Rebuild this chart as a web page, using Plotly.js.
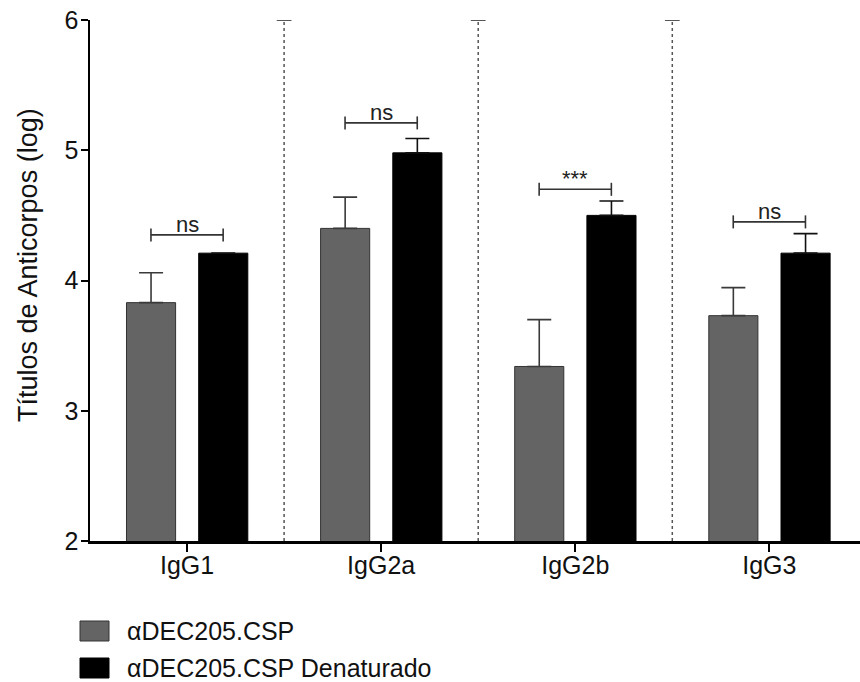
<!DOCTYPE html>
<html>
<head>
<meta charset="utf-8">
<script src="https://cdn.plot.ly/plotly-3.0.1.min.js"></script>
<style>html,body{margin:0;padding:0;background:#fff;}#chart{width:860px;height:682px;}</style>
</head>
<body>
<div id="chart"></div>
<script>
// ---- data ----
const categories = ['IgG1', 'IgG2a', 'IgG2b', 'IgG3'];
const seriesNames = ['\u03b1DEC205.CSP', '\u03b1DEC205.CSP Denaturado'];
const nativeMean = [3.83, 4.40, 3.34, 3.73];
const nativeErr = [0.23, 0.24, 0.36, 0.215];
const denatMean = [4.21, 4.98, 4.50, 4.21];
const denatErr = [0, 0.11, 0.11, 0.15];
const bracketY = [4.35, 5.21, 4.70, 4.45];
const bracketLabels = ['ns', 'ns', '***', 'ns'];
const yTicks = [2, 3, 4, 5, 6];
const yTitle = 'Títulos de Anticorpos (log)';

// ---- layout constants ----
const W = 860, H = 682;
const M = {l: 90, r: 0, t: 20, b: 141};
const FONT = 'Liberation Sans, Arial, sans-serif';
const seriesColors = ['#646464', '#000000'];
const lineColors = ['#333333', '#000000'];
const errColors = ['#3a3a3a', '#111111'];
const barWidth = 0.253;
const barOffsets = [-0.312, 0.06];
const halfSpan = 0.186;

function pxX(px) { return (px - M.l) / (W - M.l - M.r); }
function pxY(py) { return (H - M.b - py) / (H - M.t - M.b); }

const means = [nativeMean, denatMean];
const errs = [nativeErr, denatErr];
const traces = seriesNames.map((name, k) => ({
  type: 'bar',
  name: name,
  x: categories,
  y: means[k],
  width: barWidth,
  offset: barOffsets[k],
  marker: {color: seriesColors[k], line: {color: lineColors[k], width: 1}},
  error_y: {type: 'data', symmetric: false, array: errs[k], arrayminus: categories.map(() => 0),
            color: errColors[k], thickness: 1.6, width: 12},
  showlegend: false,
  hoverinfo: 'x+y'
}));

const shapes = [];
const annotations = [];

// separators between groups
for (let i = 0; i < categories.length - 1; i++) {
  const xs = i + 0.5;
  shapes.push({type: 'line', xref: 'x', yref: 'y', x0: xs, x1: xs, y0: yTicks[0], y1: yTicks[yTicks.length - 1],
               line: {color: '#555', width: 1.5, dash: 'dot'}});
  shapes.push({type: 'line', xref: 'x', yref: 'y', x0: xs - 0.038, x1: xs + 0.038,
               y0: yTicks[yTicks.length - 1], y1: yTicks[yTicks.length - 1],
               line: {color: '#555', width: 2}});
}

// significance brackets
const tick = 0.05;
categories.forEach((c, i) => {
  const y = bracketY[i];
  const a = i - halfSpan, b = i + halfSpan;
  const ln = {color: '#333', width: 1.6};
  shapes.push({type: 'line', xref: 'x', yref: 'y', x0: a, x1: b, y0: y, y1: y, line: ln});
  shapes.push({type: 'line', xref: 'x', yref: 'y', x0: a, x1: a, y0: y - tick, y1: y + tick, line: ln});
  shapes.push({type: 'line', xref: 'x', yref: 'y', x0: b, x1: b, y0: y - tick, y1: y + tick, line: ln});
  annotations.push({xref: 'x', yref: 'y', x: i, y: y, text: bracketLabels[i], showarrow: false,
                    yanchor: 'bottom', yshift: -3, borderpad: 0,
                    font: {family: FONT, size: 22, color: '#222'}});
});

// y axis title
annotations.push({xref: 'paper', yref: 'paper', x: pxX(28), y: pxY(265), text: yTitle, textangle: -90,
                  showarrow: false, xanchor: 'center', yanchor: 'middle',
                  font: {family: FONT, size: 27, color: '#111'}});

// manual legend
const legendRows = [631, 668];
seriesNames.forEach((name, k) => {
  const cy = legendRows[k];
  shapes.push({type: 'rect', xref: 'paper', yref: 'paper', x0: pxX(80), x1: pxX(109), y0: pxY(cy - 10), y1: pxY(cy + 10),
               fillcolor: seriesColors[k], line: {color: lineColors[k], width: 1}});
  annotations.push({xref: 'paper', yref: 'paper', x: pxX(125), y: pxY(cy), text: name, showarrow: false,
                    xanchor: 'left', yanchor: 'middle', font: {family: FONT, size: 25, color: '#111'}});
});

const layout = {
  width: W, height: H,
  margin: M,
  paper_bgcolor: '#fff', plot_bgcolor: '#fff',
  font: {family: FONT, color: '#111'},
  barmode: 'overlay',
  showlegend: false,
  xaxis: {
    type: 'category', range: [-0.5, 3.467], showline: true, linecolor: '#000', linewidth: 2.5,
    ticks: 'outside', ticklen: 8, tickwidth: 2, tickcolor: '#000', showgrid: false, zeroline: false,
    ticklabelstandoff: -8,
    tickfont: {family: FONT, size: 25, color: '#111'}
  },
  yaxis: {
    range: [yTicks[0], yTicks[yTicks.length - 1]], tickvals: yTicks, showline: true, linecolor: '#000', linewidth: 2.5,
    ticks: 'outside', ticklen: 7, tickwidth: 2, tickcolor: '#000', showgrid: false, zeroline: false,
    ticklabelstandoff: -3,
    tickfont: {family: FONT, size: 25, color: '#111'}
  },
  shapes: shapes,
  annotations: annotations
};

Plotly.newPlot('chart', traces, layout, {displayModeBar: false, staticPlot: true});
</script>
</body>
</html>
